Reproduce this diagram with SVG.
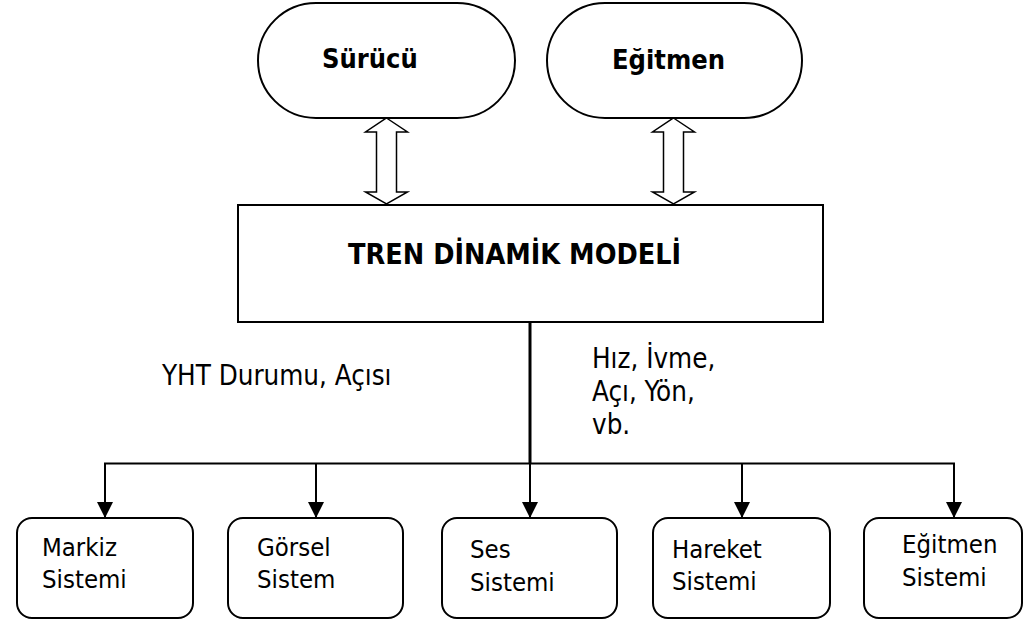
<svg xmlns="http://www.w3.org/2000/svg" width="1025" height="624" viewBox="0 0 1025 624">
<style>
.shape{fill:#fff;stroke:#000;stroke-width:2}
.bold{font-family:"DejaVu Sans Condensed","DejaVu Sans",sans-serif;font-weight:bold;font-stretch:condensed;fill:#000}
.reg{font-family:"DejaVu Sans Condensed","DejaVu Sans",sans-serif;font-stretch:condensed;fill:#000}
.lbl{font-size:27.5px}
.sub{font-size:25.5px}
.dbl{fill:#fff;stroke:#000;stroke-width:1.5;stroke-linejoin:miter}
.wire{fill:none;stroke:#000;stroke-width:2}
</style>
<defs>
<marker id="ah" markerUnits="userSpaceOnUse" markerWidth="16" markerHeight="18" refX="16" refY="8" orient="auto">
<path d="M0,0 L16,8 L0,16 Z" fill="#000"/>
</marker>
</defs>
<rect width="1025" height="624" fill="#fff"/>
<g id="surucu">
<rect class="shape" x="258" y="3" width="257" height="115" rx="58" ry="57.5"/>
<text class="bold" x="322" y="68" font-size="27">Sürücü</text>
</g>
<g id="egitmen">
<rect class="shape" x="547" y="3" width="255" height="115" rx="58" ry="57.5"/>
<text class="bold" x="612" y="69" font-size="27">Eğitmen</text>
</g>
<g id="model">
<rect class="shape" x="238" y="205" width="585" height="117"/>
<text class="bold" x="348" y="264" font-size="28.5">TREN DİNAMİK MODELİ</text>
</g>
<g id="connectors">
<path class="dbl" d="M386.5,118 L407.5,132 L396.5,132 L396.5,192 L407.5,192 L386.5,204 L365.5,192 L376.5,192 L376.5,132 L365.5,132 Z"/>
<path class="dbl" d="M673.5,118 L694.5,132 L683.5,132 L683.5,192 L694.5,192 L673.5,204 L652.5,192 L663.5,192 L663.5,132 L652.5,132 Z"/>
<line x1="530" y1="322" x2="530" y2="464" stroke="#000" stroke-width="3"/>
<line x1="104" y1="463.5" x2="955" y2="463.5" stroke="#000" stroke-width="2"/>
<line class="wire" x1="105" y1="463" x2="105" y2="518" marker-end="url(#ah)"/>
<line class="wire" x1="316" y1="463" x2="316" y2="518" marker-end="url(#ah)"/>
<line class="wire" x1="530" y1="463" x2="530" y2="518" marker-end="url(#ah)"/>
<line class="wire" x1="742" y1="463" x2="742" y2="518" marker-end="url(#ah)"/>
<line class="wire" x1="954" y1="463" x2="954" y2="518" marker-end="url(#ah)"/>
<text class="reg lbl" x="162" y="385">YHT Durumu, Açısı</text>
<text class="reg lbl" x="592" y="368">Hız, İvme,</text>
<text class="reg lbl" x="592" y="401">Açı, Yön,</text>
<text class="reg lbl" x="592" y="434">vb.</text>
</g>
<g id="markiz">
<rect class="shape" x="17" y="518" width="176" height="100" rx="15"/>
<text class="reg sub" x="42" y="556">Markiz</text>
<text class="reg sub" x="42" y="588">Sistemi</text>
</g>
<g id="gorsel">
<rect class="shape" x="228" y="518" width="175" height="100" rx="15"/>
<text class="reg sub" x="257" y="556">Görsel</text>
<text class="reg sub" x="257" y="588">Sistem</text>
</g>
<g id="ses">
<rect class="shape" x="442" y="518" width="175" height="100" rx="15"/>
<text class="reg sub" x="470" y="558">Ses</text>
<text class="reg sub" x="470" y="591">Sistemi</text>
</g>
<g id="hareket">
<rect class="shape" x="653" y="518" width="177" height="100" rx="15"/>
<text class="reg sub" x="672" y="558">Hareket</text>
<text class="reg sub" x="672" y="590">Sistemi</text>
</g>
<g id="egitmen-sistemi">
<rect class="shape" x="864" y="518" width="158" height="100" rx="15"/>
<text class="reg sub" x="902" y="553">Eğitmen</text>
<text class="reg sub" x="902" y="586">Sistemi</text>
</g>
</svg>
